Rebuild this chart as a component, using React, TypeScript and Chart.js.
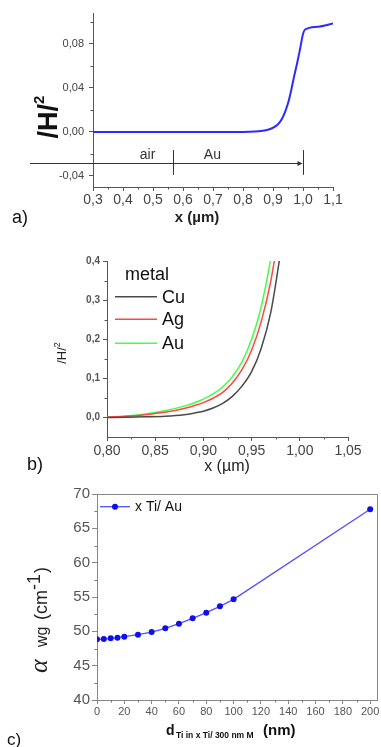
import React, { useEffect, useRef } from 'react';
import { Chart, registerables } from 'chart.js';

Chart.register(...registerables);

const W = 381;
const H = 747;
const SANS = 'Arial, "Liberation Sans", Helvetica, sans-serif';
const SERIF = '"Liberation Serif", "Times New Roman", serif';

// ---------- panel a) ----------
const xA = [0.3, 0.4, 0.5, 0.6, 0.7, 0.8, 0.82, 0.84, 0.86, 0.88, 0.9, 0.91, 0.92, 0.93, 0.94, 0.95, 0.96, 0.97, 0.98, 0.99, 1.0, 1.007, 1.05, 1.1];
const hA = [0, 0, 0, 0, 0, 0, 0.0001, 0.0003, 0.0008, 0.0018, 0.0038, 0.0055, 0.008, 0.012, 0.018, 0.026, 0.037, 0.05, 0.062, 0.075, 0.089, 0.093, 0.0955, 0.0985];
const xTicksA = [0.3, 0.4, 0.5, 0.6, 0.7, 0.8, 0.9, 1.0, 1.1];
const yTicksA = [-0.04, 0, 0.04, 0.08];
const xMinorA = [0.35, 0.45, 0.55, 0.65, 0.75, 0.85, 0.95, 1.05];
const yMinorA = [-0.02, 0.02, 0.06, 0.1];
const regionNamesA = ['air', 'Au'];
const regionCentersA = [0.482, 0.698];
const regionBoundsA = [0.09, 0.567, 1.0];
const arrowYA = -0.028;
const markSpanA = [-0.0165, -0.039];
const labelYA = -0.021;

// ---------- panel b) ----------
const metals = ['Cu', 'Ag', 'Au'];
const metalColors = ['#4a4a4a', '#ff4545', '#45ff45'];
const xB = [0.8, 0.82, 0.84, 0.86, 0.88, 0.89, 0.9, 0.91, 0.92, 0.93, 0.94, 0.95, 0.96, 0.97, 0.98];
const cuB = [0, 0.0005, 0.0015, 0.003, 0.007, 0.011, 0.016, 0.024, 0.036, 0.054, 0.08, 0.117, 0.177, 0.27, 0.42];
const agB = [0.001, 0.003, 0.007, 0.013, 0.023, 0.03, 0.038, 0.049, 0.064, 0.088, 0.122, 0.172, 0.245, 0.35, 0.5];
const auB = [0.001, 0.004, 0.009, 0.017, 0.029, 0.037, 0.047, 0.06, 0.078, 0.104, 0.142, 0.2, 0.283, 0.41, 0.6];
const xTicksB = [0.8, 0.85, 0.9, 0.95, 1.0, 1.05];
const yTicksB = [0, 0.1, 0.2, 0.3, 0.4];
const xMinorB = [0.825, 0.875, 0.925, 0.975, 1.025];
const yMinorB = [0.05, 0.15, 0.25, 0.35];

// ---------- panel c) ----------
const dC = [0, 5, 10, 15, 20, 30, 40, 50, 60, 70, 80, 90, 100, 200];
const alphaC = [48.83, 48.88, 48.98, 49.08, 49.22, 49.51, 49.9, 50.44, 51.12, 51.89, 52.72, 53.64, 54.66, 67.77];
const xTicksC = [0, 20, 40, 60, 80, 100, 120, 140, 160, 180, 200];
const yTicksC = [40, 45, 50, 55, 60, 65, 70];
const xMinorC = [10, 30, 50, 70, 90, 110, 130, 150, 170, 190];
const yMinorC = [42.5, 47.5, 52.5, 57.5, 62.5, 67.5];
const seriesC = 'x Ti/ Au';

type Area = { left: number; top: number; right: number; bottom: number };
type Part = { t: string; font: string; dy?: number; at?: number };

function rich(ctx: CanvasRenderingContext2D, parts: Part[], x: number, y: number, rot: number, align: 'left' | 'center', color: string) {
  ctx.save();
  ctx.translate(x, y);
  ctx.rotate(rot);
  ctx.fillStyle = color;
  ctx.textBaseline = 'alphabetic';
  ctx.textAlign = 'left';
  let total = 0;
  for (const p of parts) {
    ctx.font = p.font;
    total += ctx.measureText(p.t).width;
  }
  let cx = align === 'center' ? -total / 2 : 0;
  for (const p of parts) {
    ctx.font = p.font;
    if (p.at !== undefined) cx = p.at;
    ctx.fillText(p.t, cx, p.dy || 0);
    cx += ctx.measureText(p.t).width;
  }
  ctx.restore();
}

const minorTicksPlugin = {
  id: 'minorTicks',
  afterDraw(chart: any, _args: any, opts: any) {
    if (!opts || !opts.x) return;
    const { ctx, chartArea: a, scales } = chart;
    ctx.save();
    ctx.strokeStyle = opts.color;
    ctx.lineWidth = 1;
    ctx.beginPath();
    for (const v of opts.x) {
      const p = Math.round(scales.x.getPixelForValue(v)) + 0.5;
      ctx.moveTo(p, a.bottom);
      ctx.lineTo(p, a.bottom + opts.len);
    }
    for (const v of opts.y) {
      const p = Math.round(scales.y.getPixelForValue(v)) + 0.5;
      ctx.moveTo(a.left - opts.len, p);
      ctx.lineTo(a.left, p);
    }
    ctx.stroke();
    ctx.restore();
  },
};

function axis(o: {
  min: number; max: number; ticks: number[]; fmt: (v: number) => string; size: number; weight?: string;
  color: string; line: string; pad: number; tl: number; fit: (s: any) => void;
}) {
  return {
    type: 'linear',
    min: o.min,
    max: o.max,
    afterBuildTicks: (s: any) => { s.ticks = o.ticks.map((v) => ({ value: v })); },
    afterFit: o.fit,
    ticks: {
      callback: (v: any) => o.fmt(Number(v)),
      font: { family: SANS, size: o.size, weight: o.weight || 'normal' },
      color: o.color,
      padding: o.pad,
      maxRotation: 0,
      autoSkip: false,
    },
    grid: { drawOnChartArea: false, drawTicks: true, tickLength: o.tl, color: o.line, lineWidth: 1 },
    border: { display: true, color: o.line, width: 1 },
  };
}

function baseOptions(area: Area) {
  return {
    responsive: false,
    animation: false,
    devicePixelRatio: 1,
    events: [],
    layout: { padding: { left: 0, top: area.top, right: W - area.right, bottom: 0 } },
  };
}

const fitX = (area: Area) => (s: any) => { s.height = H - area.bottom; s.paddingLeft = 0; s.paddingRight = 0; };
const fitY = (area: Area) => (s: any) => { s.width = area.left; s.paddingTop = 0; s.paddingBottom = 0; };
const comma = (d: number) => (v: number) => v.toFixed(d).replace('.', ',');

// ---------- configs ----------
function makeA(): any {
  const area = { left: 93, top: 13, right: 333, bottom: 187 };
  const deco = {
    id: 'decoA',
    afterDraw(chart: any) {
      const { ctx, scales: { x, y } } = chart;
      ctx.save();
      ctx.strokeStyle = '#333';
      ctx.fillStyle = '#333';
      ctx.lineWidth = 1;
      const ay = Math.round(y.getPixelForValue(arrowYA)) + 0.5;
      const x0 = x.getPixelForValue(regionBoundsA[0]);
      const x1 = Math.round(x.getPixelForValue(regionBoundsA[1])) + 0.5;
      const x2 = Math.round(x.getPixelForValue(regionBoundsA[2])) + 0.5;
      ctx.beginPath();
      ctx.moveTo(x0, ay);
      ctx.lineTo(x2 - 2, ay);
      const t0 = y.getPixelForValue(markSpanA[0]);
      const t1 = y.getPixelForValue(markSpanA[1]);
      ctx.moveTo(x1, t0);
      ctx.lineTo(x1, t1);
      ctx.moveTo(x2, t0);
      ctx.lineTo(x2, t1);
      ctx.stroke();
      ctx.beginPath();
      ctx.moveTo(x2 - 1, ay);
      ctx.lineTo(x2 - 6, ay - 2.5);
      ctx.lineTo(x2 - 6, ay + 2.5);
      ctx.closePath();
      ctx.fill();
      ctx.font = `14px ${SANS}`;
      ctx.textAlign = 'center';
      ctx.textBaseline = 'middle';
      ctx.fillStyle = '#333';
      regionNamesA.forEach((n, i) => ctx.fillText(n, x.getPixelForValue(regionCentersA[i]), y.getPixelForValue(labelYA)));
      ctx.restore();
      rich(ctx, [{ t: '/H/', font: `bold 27px ${SANS}` }, { t: '2', font: `bold 15px ${SANS}`, dy: -13 }], 57, 117, -Math.PI / 2, 'center', '#111');
      rich(ctx, [{ t: 'x (µm)', font: `bold 15px ${SANS}` }], 197, 222, 0, 'center', '#222');
      rich(ctx, [{ t: 'a)', font: `18px ${SANS}` }], 12, 223, 0, 'left', '#111');
    },
  };
  return {
    type: 'line',
    data: {
      datasets: [{
        data: xA.map((v, i) => ({ x: v, y: hA[i] })),
        borderColor: '#2b2bff', borderWidth: 2, pointRadius: 0, cubicInterpolationMode: 'monotone', fill: false,
      }],
    },
    options: {
      ...baseOptions(area),
      plugins: { legend: { display: false }, tooltip: { enabled: false }, minorTicks: { x: xMinorA, y: yMinorA, len: 2.5, color: '#555' } },
      scales: {
        x: axis({ min: 0.3, max: 1.1, ticks: xTicksA, fmt: comma(1), size: 14, color: '#444', line: '#555', pad: 1, tl: 4, fit: fitX(area) }),
        y: axis({ min: -0.05, max: 0.108, ticks: yTicksA, fmt: comma(2), size: 11, color: '#444', line: '#555', pad: 5, tl: 4, fit: fitY(area) }),
      },
    },
    plugins: [minorTicksPlugin, deco],
  };
}

function makeB(): any {
  const area = { left: 107, top: 261, right: 348, bottom: 437 };
  const series = [cuB, agB, auB];
  const deco = {
    id: 'decoB',
    afterDraw(chart: any) {
      const { ctx } = chart;
      rich(ctx, [{ t: 'metal', font: `18px ${SANS}` }], 125, 280, 0, 'left', '#111');
      const ys = [296.7, 319.3, 343.3];
      chart.data.datasets.forEach((ds: any, i: number) => {
        ctx.save();
        ctx.strokeStyle = ds.borderColor;
        ctx.lineWidth = 1.5;
        ctx.beginPath();
        ctx.moveTo(115, ys[i]);
        ctx.lineTo(157, ys[i]);
        ctx.stroke();
        ctx.fillStyle = '#111';
        ctx.font = `18px ${SANS}`;
        ctx.textBaseline = 'middle';
        ctx.fillText(ds.label, 162, ys[i] + 1);
        ctx.restore();
      });
      rich(ctx, [{ t: '/H/', font: `13px ${SANS}` }, { t: '2', font: `9px ${SANS}`, dy: -6 }], 66, 353, -Math.PI / 2, 'center', '#222');
      rich(ctx, [{ t: 'x (µm)', font: `16px ${SANS}` }], 227, 471, 0, 'center', '#222');
      rich(ctx, [{ t: 'b)', font: `18px ${SANS}` }], 27, 470, 0, 'left', '#111');
    },
  };
  return {
    type: 'line',
    data: {
      datasets: metals.map((m, k) => ({
        label: m,
        data: xB.map((v, i) => ({ x: v, y: series[k][i] })),
        borderColor: metalColors[k], borderWidth: 1.5, pointRadius: 0, cubicInterpolationMode: 'monotone', fill: false,
      })),
    },
    options: {
      ...baseOptions(area),
      plugins: { legend: { display: false }, tooltip: { enabled: false }, minorTicks: { x: xMinorB, y: yMinorB, len: 2.5, color: '#555' } },
      scales: {
        x: axis({ min: 0.8, max: 1.05, ticks: xTicksB, fmt: comma(2), size: 14, color: '#444', line: '#555', pad: 2, tl: 4, fit: fitX(area) }),
        y: axis({ min: -0.05, max: 0.4, ticks: yTicksB, fmt: comma(1), size: 10, weight: 'bold', color: '#555', line: '#555', pad: 3, tl: 4, fit: fitY(area) }),
      },
    },
    plugins: [minorTicksPlugin, deco],
  };
}

function makeC(): any {
  const area = { left: 97, top: 494, right: 378, bottom: 700 };
  const deco = {
    id: 'decoC',
    afterDraw(chart: any) {
      const { ctx, chartArea: a } = chart;
      ctx.save();
      ctx.strokeStyle = '#888';
      ctx.lineWidth = 1;
      ctx.beginPath();
      ctx.moveTo(Math.round(a.left), Math.round(a.top) + 0.5);
      ctx.lineTo(Math.round(a.right) + 0.5, Math.round(a.top) + 0.5);
      ctx.lineTo(Math.round(a.right) + 0.5, Math.round(a.bottom));
      ctx.stroke();
      // legend
      const ds = chart.data.datasets[0];
      ctx.strokeStyle = ds.borderColor;
      ctx.lineWidth = 1.3;
      ctx.beginPath();
      ctx.moveTo(100, 506.7);
      ctx.lineTo(130, 506.7);
      ctx.stroke();
      ctx.fillStyle = ds.pointBackgroundColor;
      ctx.beginPath();
      ctx.arc(115, 506.7, 3, 0, Math.PI * 2);
      ctx.fill();
      ctx.fillStyle = '#111';
      ctx.font = `14px ${SANS}`;
      ctx.textBaseline = 'middle';
      ctx.fillText(ds.label, 135, 507.5);
      ctx.restore();
      rich(ctx, [
        { t: 'α', font: `italic 26px ${SERIF}`, at: 0 },
        { t: 'wg', font: `16px ${SANS}`, at: 26 },
        { t: '(cm', font: `18px ${SANS}`, at: 53 },
        { t: '-1', font: `18px ${SANS}`, dy: -7, at: 83 },
        { t: ')', font: `18px ${SANS}`, at: 100 },
      ], 47, 673, -Math.PI / 2, 'left', '#222');
      rich(ctx, [{ t: 'd', font: `bold 14px ${SANS}` }], 166, 735, 0, 'left', '#111');
      rich(ctx, [{ t: 'Ti in x Ti/ 300 nm M', font: `bold 8.5px ${SANS}` }], 176, 738, 0, 'left', '#111');
      rich(ctx, [{ t: '(nm)', font: `bold 15px ${SANS}` }], 263, 735, 0, 'left', '#111');
      rich(ctx, [{ t: 'c)', font: `17px ${SANS}` }], 7, 745, 0, 'left', '#111');
    },
  };
  return {
    type: 'line',
    data: {
      datasets: [{
        label: seriesC,
        data: dC.map((v, i) => ({ x: v, y: alphaC[i] })),
        borderColor: '#5050ff', borderWidth: 1.3, pointRadius: 3, pointBackgroundColor: '#1010e6', pointBorderWidth: 0,
        tension: 0, fill: false,
      }],
    },
    options: {
      ...baseOptions(area),
      plugins: { legend: { display: false }, tooltip: { enabled: false }, minorTicks: { x: xMinorC, y: yMinorC, len: 2.5, color: '#777' } },
      scales: {
        x: axis({ min: 0, max: 205, ticks: xTicksC, fmt: (v) => String(v), size: 11, color: '#555', line: '#888', pad: 1, tl: 4, fit: fitX(area) }),
        y: axis({ min: 40, max: 70, ticks: yTicksC, fmt: (v) => String(v), size: 15, color: '#555', line: '#888', pad: 2, tl: 5, fit: fitY(area) }),
      },
    },
    plugins: [minorTicksPlugin, deco],
  };
}

function Panel({ make }: { make: () => any }) {
  const ref = useRef<HTMLCanvasElement>(null);
  useEffect(() => {
    const chart = new Chart(ref.current as HTMLCanvasElement, make());
    return () => chart.destroy();
  }, [make]);
  return (
    <canvas
      ref={ref}
      width={W}
      height={H}
      style={{ position: 'absolute', left: 0, top: 0, width: W, height: H }}
    />
  );
}

export default function App() {
  return (
    <div style={{ position: 'absolute', left: 0, top: 0, width: W, height: H, background: '#fff', overflow: 'hidden' }}>
      <Panel make={makeA} />
      <Panel make={makeB} />
      <Panel make={makeC} />
    </div>
  );
}
